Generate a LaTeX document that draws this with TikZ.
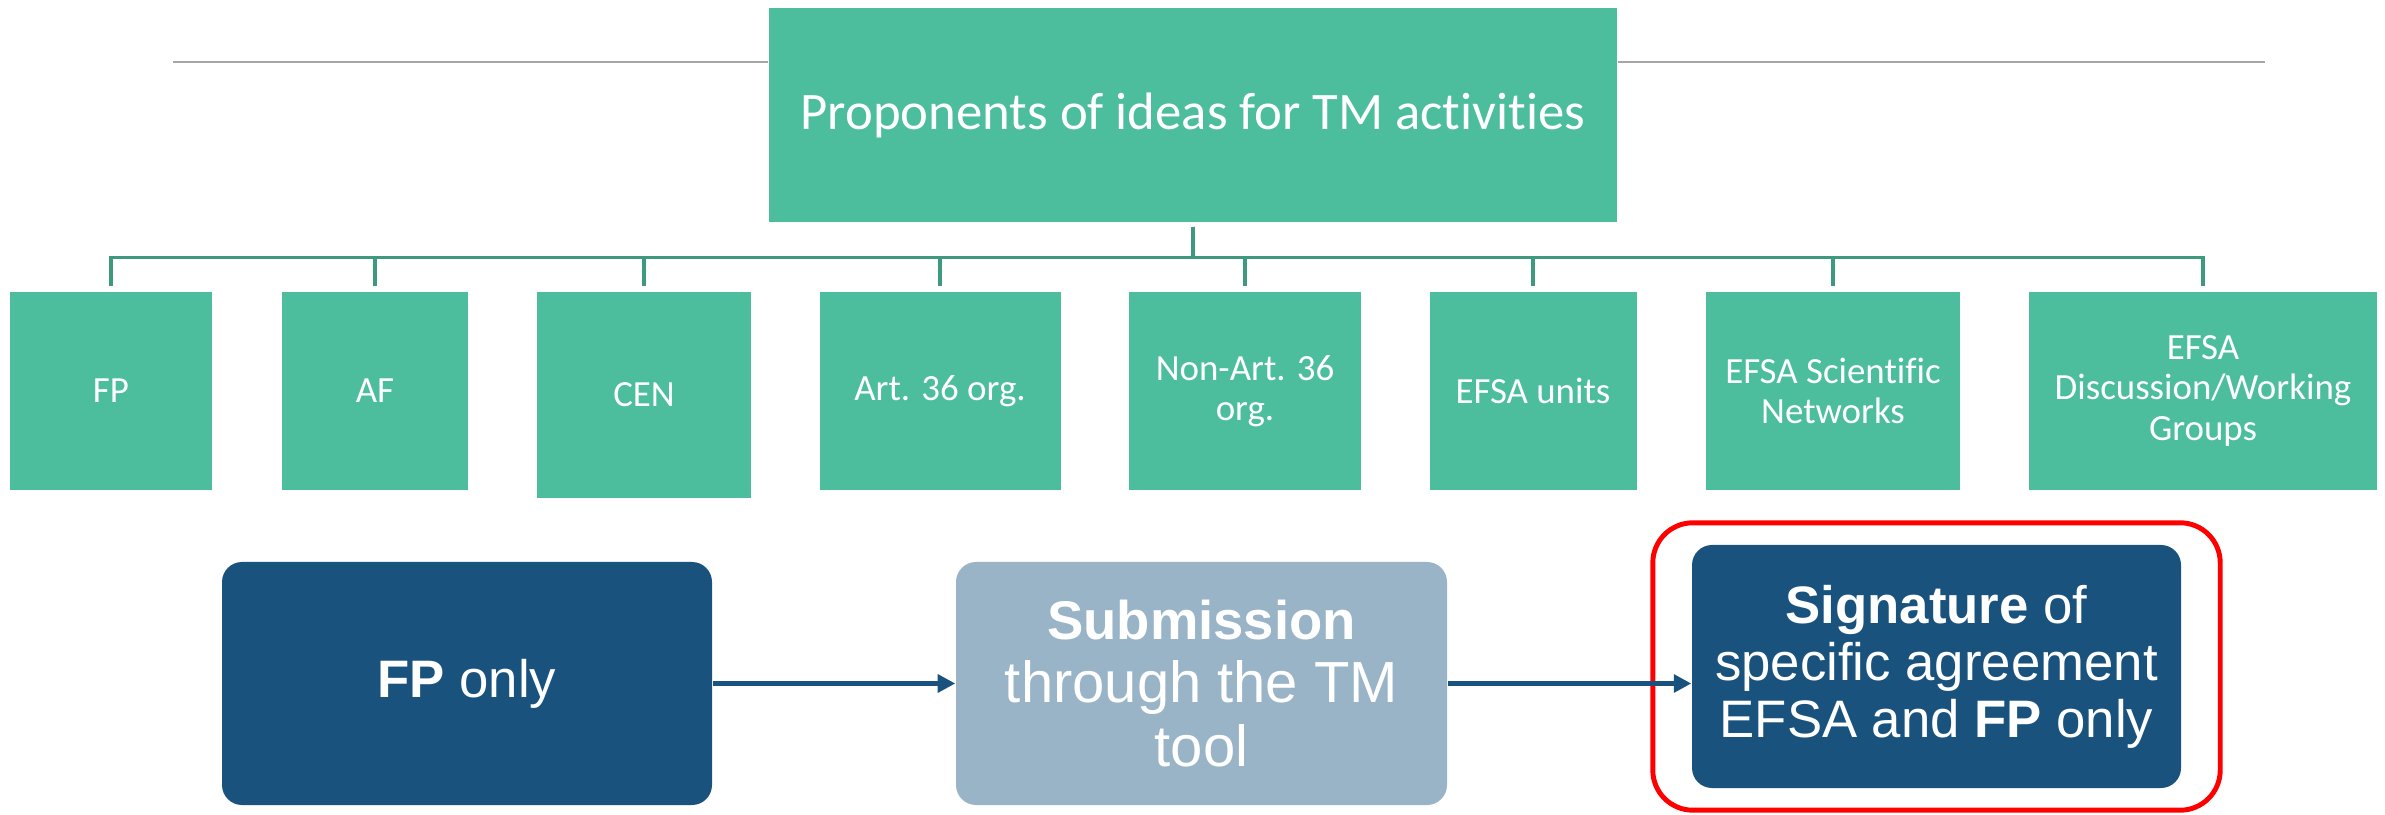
\documentclass[tikz,border=0pt]{standalone}
\usepackage{fontspec}
\setmainfont{Carlito}[Ligatures=NoCommon]
\newfontfamily\arialfont{Liberation Sans}
\usepackage{tikz}
\usetikzlibrary{arrows.meta}
\usetikzlibrary{fit}

\definecolor{tmgreen}{HTML}{4CBE9D}
\definecolor{tmbus}{HTML}{3D9A7E}
\definecolor{efsablue}{HTML}{1A527E}
\definecolor{efsagrey}{HTML}{99B3C7}
\definecolor{rulegrey}{HTML}{A6A6A6}

\tikzset{
  org/.style={fill=tmgreen, text=white, align=center, inner sep=2pt,
    minimum height=1.98cm, font=\fontsize{10.5}{11.4}\selectfont},
  stepbox/.style={rounded corners=0.2cm, text=white, align=center,
    minimum width=4.9cm, minimum height=2.43cm,
    font=\arialfont\fontsize{15}{17}\selectfont},
  bus/.style={draw=tmbus, line width=0.9pt},
  flow/.style={->, >={Triangle[length=5pt,width=5pt]}, line width=1.5pt, draw=efsablue}
}

\begin{document}
\begin{tikzpicture}
\useasboundingbox (0,0) rectangle (23.85,-8.15);
\node[fill=tmgreen, text=white, minimum width=8.48cm, minimum height=2.14cm, font=\fontsize{15}{18}\selectfont] (top) at (11.93,-1.15) {Proponents of ideas for TM activities};
\coordinate (ruleL) at (1.73,-0.62);
\coordinate (ruleR) at (22.65,-0.62);
\draw[rulegrey, line width=0.6pt] (ruleL) -- (ruleL -| top.west);
\draw[rulegrey, line width=0.6pt] (ruleR) -- (ruleR -| top.east);
% proponents
\node[org, minimum width=2.02cm] (fp) at (1.11,-3.91) {FP};
\node[org, minimum width=1.86cm] (af) at (3.75,-3.91) {AF};
\node[org, minimum width=2.14cm, minimum height=2.06cm] (cen) at (6.44,-3.95) {CEN};
\node[org, minimum width=2.41cm] (art) at (9.40,-3.91) {Art. 36 org.};
\node[org, minimum width=2.32cm] (nonart) at (12.45,-3.91) {Non-Art. 36\\org.};
\node[org, minimum width=2.07cm] (units) at (15.33,-3.91) {EFSA units};
\node[org, minimum width=2.54cm] (sci) at (18.33,-3.91) {EFSA Scientific\\Networks};
\node[org, minimum width=3.48cm] (disc) at (22.03,-3.91) {EFSA\\Discussion/Working\\Groups};
\foreach \n in {fp,af,cen,art,nonart,units,sci,disc}
  \draw[bus, shorten <=0.04cm, shorten >=0.05cm] (top.south) -- ++(0,-0.35) -| (\n.north);
% procedure
\node[stepbox, fill=efsablue] (fponly) at (4.67,-6.835) {\textbf{FP} only};
\node[stepbox, fill=efsagrey, minimum width=4.91cm, font=\arialfont\fontsize{16.5}{18}\selectfont] (submit) at (12.015,-6.835) {{\fontsize{15.5}{18}\selectfont\textbf{Submission}}\\through the TM\\tool};
\node[stepbox, fill=efsablue, minimum width=4.89cm, font=\arialfont\fontsize{15}{16.2}\selectfont] (sign) at (19.365,-6.665) {\textbf{Signature} of\\specific agreement\\EFSA and \textbf{FP} only};
\node[fit=(sign), draw=red, line width=1.4pt, rounded corners=0.4cm, inner xsep=0.385cm, inner ysep=0.215cm] (frame) {};
\draw[flow] (fponly.east) -- (submit.west);
\draw[flow] (submit.east) -- (submit.east -| sign.west);
\end{tikzpicture}
\end{document}
